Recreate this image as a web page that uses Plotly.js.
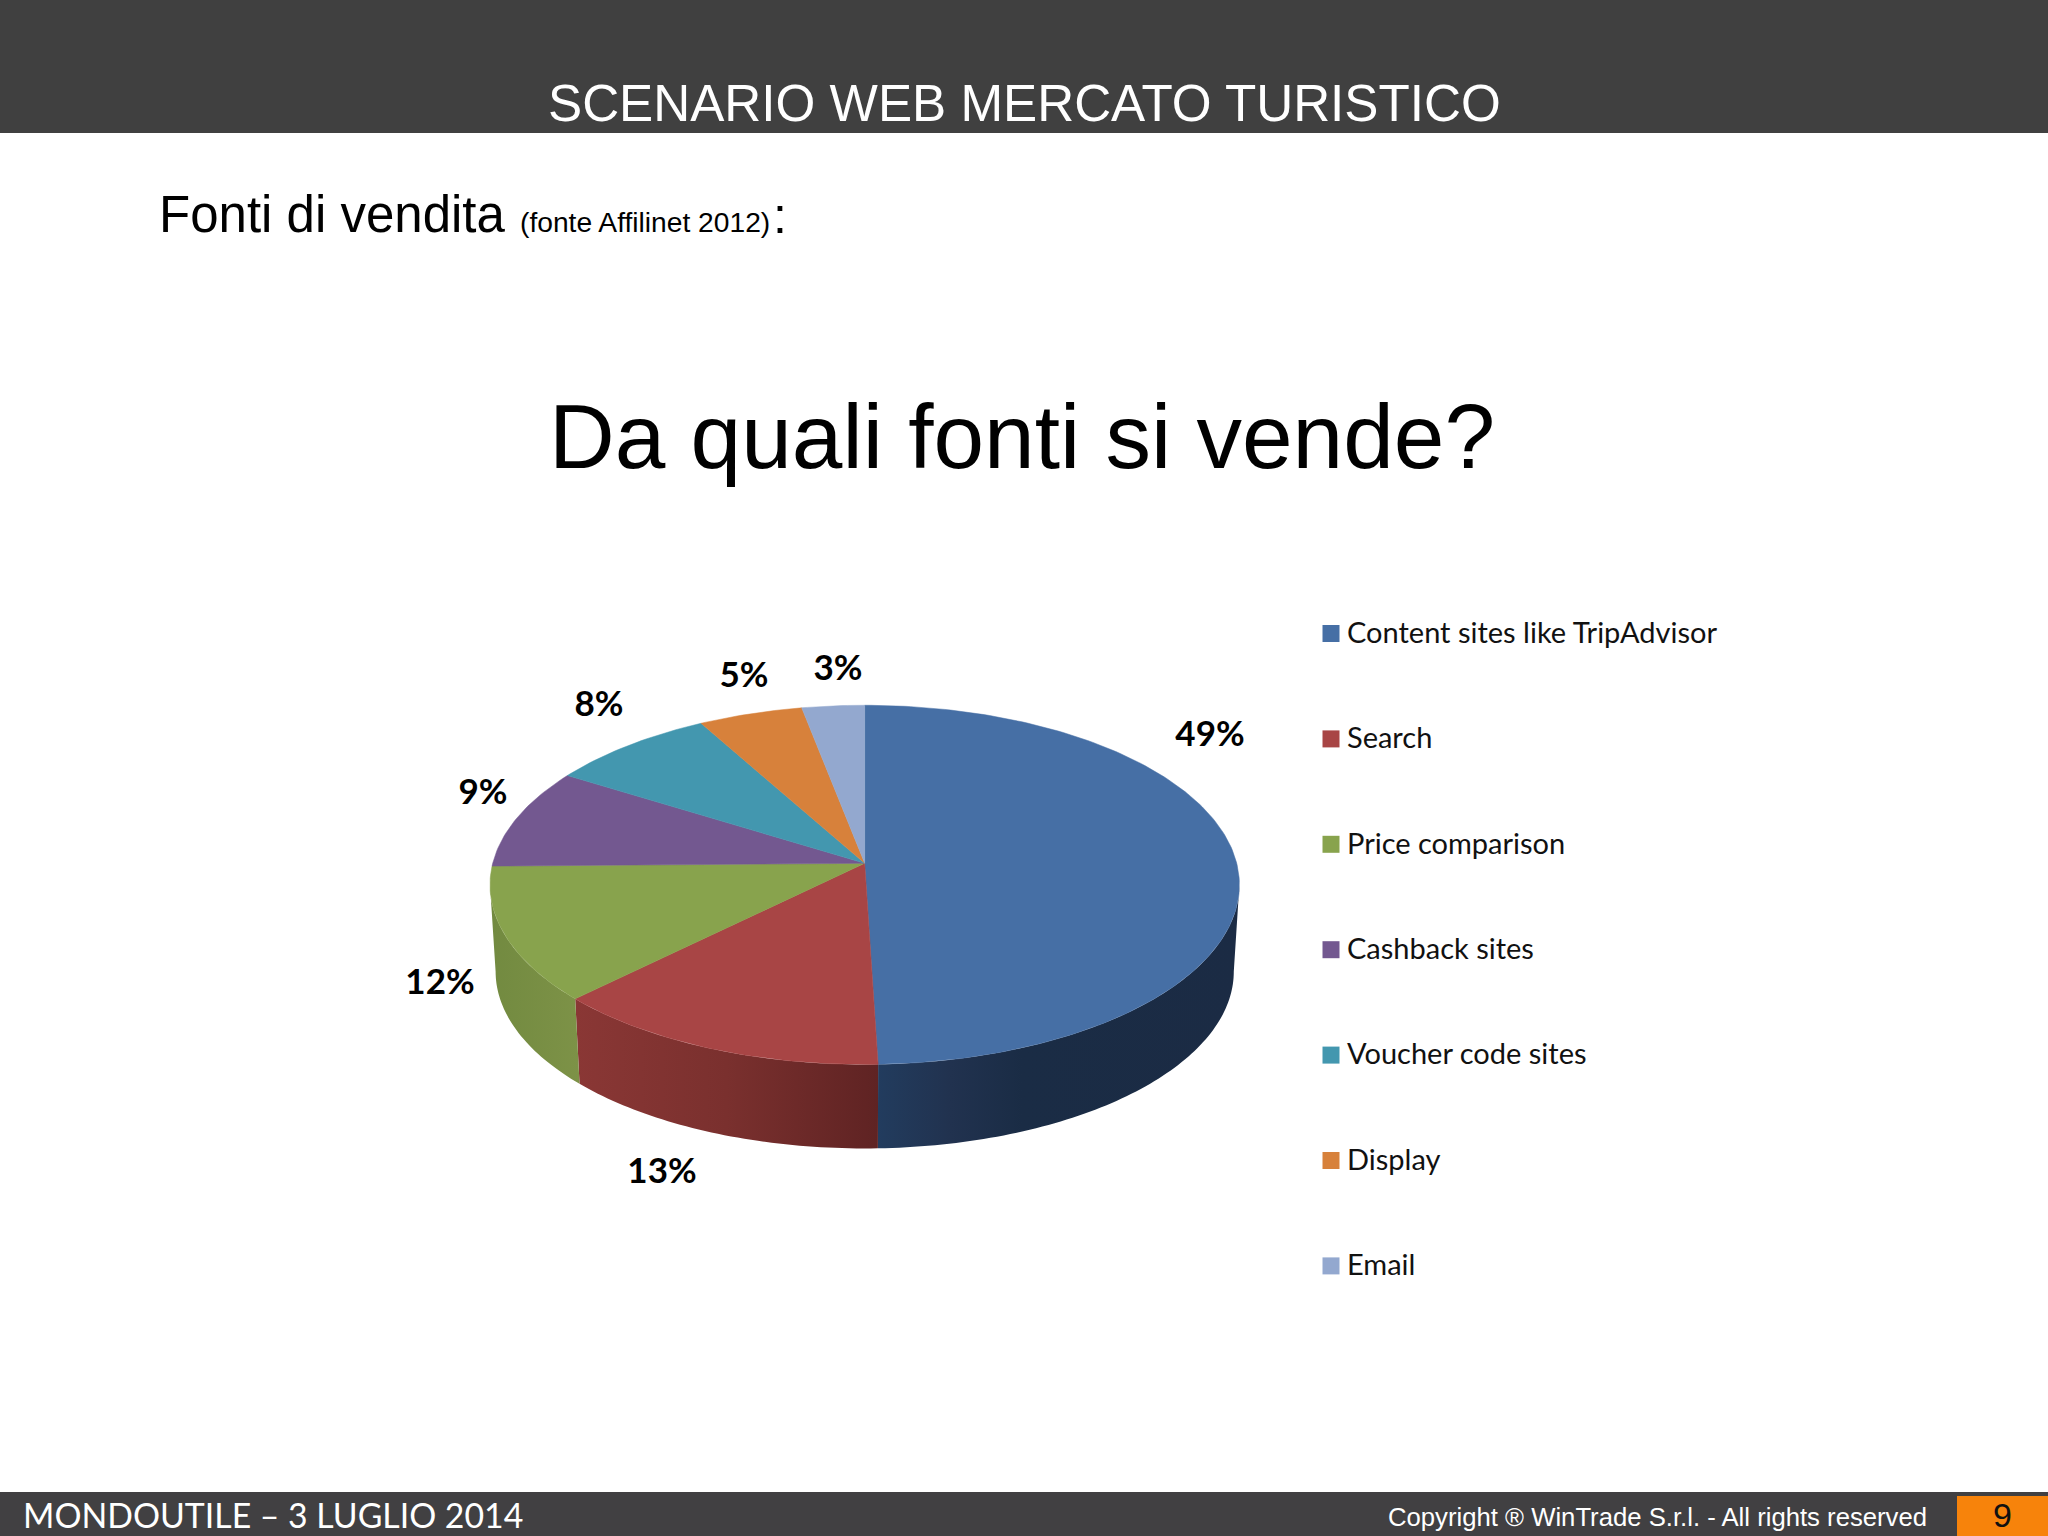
<!DOCTYPE html>
<html>
<head>
<meta charset="utf-8">
<script src="https://cdn.plot.ly/plotly-3.0.1.min.js"></script>
<style>html,body{margin:0;padding:0;background:#fff}</style>
</head>
<body>
<div id="chart" style="width:2048px;height:1536px"></div>
<script>
const categories = ["Content sites like TripAdvisor","Search","Price comparison","Cashback sites","Voucher code sites","Display","Email"];
const shares = [49,13,12,9,8,5,3];
const topColors = ["#466FA5","#A84545","#88A34D","#735890","#4397AF","#D7813B","#93A8CF"];
const wallRamps = [
  [[0,"#223C5E"],[0.2,"#21324F"],[0.4,"#1A2C45"],[1,"#1B2B44"]],
  [[0,"#8A3735"],[0.5,"#7A302E"],[1,"#5F2323"]],
  [[0,"#728A40"],[1,"#7D9247"]]
];
const labelSpots = [[1210,737],[662,1174],[440,985],[483,795],[599,707],[744,678],[838,671]];

// pie geometry (tilted disc seen in perspective)
const CX=864.7, CY=863.3, A=372, B=177, P=0.12, DEPTH=87, BASE_SCALE=0.985;
const LEFT_EDGE=360-Math.acos(-P)*180/Math.PI, RIGHT_EDGE=Math.acos(-P)*180/Math.PI;
function rim(deg,isBase){
  const t=deg*Math.PI/180,u=Math.sin(t),v=Math.cos(t),w=1+P*v,s=isBase?BASE_SCALE:1;
  return [CX+s*A*u/w, CY+(isBase?DEPTH:0)-s*B*v/w];
}
function arc(a,b,isBase){
  const out=[],n=Math.max(2,Math.ceil(Math.abs(b-a)));
  for(let i=0;i<=n;i++) out.push(rim(a+(b-a)*i/n,isBase));
  return out;
}
const total=shares.reduce((s,v)=>s+v,0);
let run=0;
const spans=shares.map(v=>{const a=run/total*360;run+=v;return [a,run/total*360];});

const traces=[];
// side walls
spans.forEach((sp,i)=>{
  const a=Math.max(sp[0],RIGHT_EDGE),b=Math.min(sp[1],LEFT_EDGE);
  if(b<=a||!wallRamps[i])return;
  const pts=arc(a,b,false).concat(arc(b,a,true));
  traces.push({type:"scatter",mode:"none",x:pts.map(p=>p[0]),y:pts.map(p=>p[1]),
    fill:"toself",fillgradient:{type:"horizontal",colorscale:wallRamps[i]},
    hoverinfo:"skip",showlegend:false});
});
// top slices
spans.forEach((sp,i)=>{
  const pts=[[CX,CY]].concat(arc(sp[0],sp[1],false),[[CX,CY]]);
  traces.push({type:"scatter",mode:"lines",x:pts.map(p=>p[0]),y:pts.map(p=>p[1]),
    fill:"toself",fillcolor:topColors[i],line:{color:topColors[i],width:0.5},
    name:categories[i],showlegend:false,hoverinfo:"name"});
});
// percent labels
traces.push({type:"scatter",mode:"text",x:labelSpots.map(p=>p[0]),y:labelSpots.map(p=>p[1]),
  text:shares.map(v=>v+"%"),textposition:"middle center",
  textfont:{family:"Lato, sans-serif",size:35,color:"#000",weight:700},showlegend:false,hoverinfo:"skip"});
// key
const keyY=categories.map((c,i)=>633.5+105.4*i);
traces.push({type:"scatter",mode:"markers",x:categories.map(()=>1331),y:keyY,
  marker:{symbol:"square",size:17,color:topColors},showlegend:false,hoverinfo:"skip"});
traces.push({type:"scatter",mode:"text",x:categories.map(()=>1347),y:keyY.map(v=>v+2),text:categories,textposition:"middle right",
  textfont:{family:"Lato, sans-serif",size:29,color:"#111"},showlegend:false,hoverinfo:"skip"});

const W="Liberation Sans, Arial, sans-serif";
function note(text,x,y,size,color,family,anchor){
  return {text:text,x:x,y:y,xref:"x",yref:"y",showarrow:false,xanchor:anchor||"left",yanchor:"middle",
    font:{family:family||W,size:size,color:color||"#000"},borderpad:0};
}
const layout={
  width:2048,height:1536,margin:{l:0,r:0,t:0,b:0},paper_bgcolor:"#fff",plot_bgcolor:"#fff",showlegend:false,
  xaxis:{range:[0,2048],visible:false,fixedrange:true},
  yaxis:{range:[1536,0],visible:false,fixedrange:true},
  shapes:[
    {type:"rect",xref:"x",yref:"y",x0:0,x1:2048,y0:0,y1:133,fillcolor:"#404040",line:{width:0},layer:"below"},
    {type:"rect",xref:"x",yref:"y",x0:0,x1:2048,y0:1492,y1:1536,fillcolor:"#414042",line:{width:0},layer:"below"},
    {type:"rect",xref:"x",yref:"y",x0:1957,x1:2048,y0:1496,y1:1536,fillcolor:"#F7830B",line:{width:0},layer:"below"}
  ],
  annotations:[
    note("SCENARIO WEB MERCATO TURISTICO",1024,103,51.2,"#fff",W,"center"),
    note("Fonti di vendita",158,214,51),
    note("(fonte Affilinet 2012)",519,222,28.2),
    note(":",772,216,50),
    note("Da quali fonti si vende?",1022,436,91,"#000",W,"center"),
    note("MONDOUTILE – 3 LUGLIO 2014",22,1515,33.8,"#fff","Lato, sans-serif"),
    note("Copyright ® WinTrade S.r.l. - All rights reserved",1387,1517,25.7,"#fff"),
    note("9",2002,1515,34,"#111",W,"center")
  ]
};
Plotly.newPlot("chart",traces,layout,{displayModeBar:false,staticPlot:true});
</script>
</body>
</html>
